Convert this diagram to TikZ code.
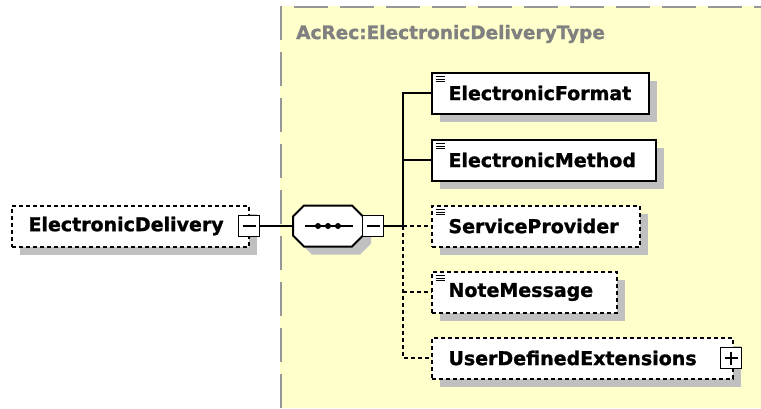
\documentclass[tikz,border=0pt]{standalone}
\usepackage{fontspec}
\setmainfont{DejaVu Sans}
\newfontfamily\boxfont{DejaVu Sans Bold}[FakeBold=1.2]
\usetikzlibrary{shadows}
\definecolor{bgyellow}{RGB}{255,255,204}
\definecolor{shadowgray}{RGB}{192,192,192}
\definecolor{titlegray}{RGB}{128,128,128}
\definecolor{framegray}{RGB}{150,150,150}
\newcommand{\etxt}[2]{\makebox[#1][l]{#2}}
\tikzset{
  shad/.style={drop shadow={shadow xshift=8pt, shadow yshift=-8pt, fill=shadowgray, opacity=1}},
  elem/.style={draw, line width=2pt, fill=white, minimum height=41pt, inner ysep=0pt,
    inner xsep=16.5pt, outer sep=0pt, anchor=west, font=\boxfont\fontsize{19}{22}\selectfont, shad},
  opt/.style={dash pattern=on 4pt off 3pt},
  conn/.style={line width=2pt},
  togbox/.style={draw, line width=1.8pt, fill=white, minimum width=21pt, minimum height=21pt,
    inner sep=0pt, outer sep=0pt},
  minusbox/.style={togbox, path picture={\draw[line width=1.8pt]
    ([xshift=4pt]path picture bounding box.west) -- ([xshift=-4pt]path picture bounding box.east);}},
  plusbox/.style={togbox, path picture={\draw[line width=1.8pt]
    ([xshift=4pt]path picture bounding box.west) -- ([xshift=-4pt]path picture bounding box.east)
    ([yshift=-4pt]path picture bounding box.north) -- ([yshift=4pt]path picture bounding box.south);}},
  seqarea/.style={minimum width=70pt, minimum height=41pt, inner sep=0pt, outer sep=0pt},
  seqline/.style={line width=2pt, fill=white, shad},
  titlestyle/.style={anchor=west, inner sep=0pt, text=titlegray, font=\boxfont\fontsize{18.5}{22}\selectfont},
  iconline/.style={line width=1pt}
}
\begin{document}
\begin{tikzpicture}[x=1pt,y=-1pt]
\useasboundingbox (0,0) rectangle (761,408);
\fill[bgyellow] (280,6) rectangle (761,408);
\draw[framegray, line width=2pt, dash pattern=on 34pt off 12pt] (281,408) -- (281,7) -- (761,7);
\node[titlestyle] (title) at (296,34) {AcRec:ElectronicDeliveryType};

% root element
\node[elem, opt] (ed) at (12,226) {\etxt{204pt}{ElectronicDelivery}};
\node[minusbox] (edm) at (249,226) {};

% sequence compositor
\node[seqarea] (seq) at (328,226) {};
\draw[seqline] ([xshift=11pt]seq.north west) -- ([xshift=-11pt]seq.north east)
  -- ([yshift=-11pt]seq.north east) -- ([yshift=11pt]seq.south east)
  -- ([xshift=-11pt]seq.south east) -- ([xshift=11pt]seq.south west)
  -- ([yshift=11pt]seq.south west) -- ([yshift=-11pt]seq.north west) -- cycle;
\node[minusbox] (seqm) at (373,226) {};
\draw[conn] ([xshift=-23pt]seq.center) -- ([xshift=25pt]seq.center);
\foreach \dx in {-10,0,10} \fill ([xshift=\dx pt]seq.center) circle (3pt);

% children
\node[elem] (ef) at (432,93) {\etxt{184pt}{ElectronicFormat}};
\node[elem] (em) at (432,160) {\etxt{191pt}{ElectronicMethod}};
\node[elem, opt] (sp) at (432,226) {\etxt{175pt}{ServiceProvider}};
\node[elem, opt] (nm) at (432,292) {\etxt{152pt}{NoteMessage}};
\node[elem, opt] (ude) at (432,358) {\etxt{268pt}{UserDefinedExtensions}};
\node[plusbox] (udep) at (731,358) {};

% simple-content icons
\foreach \n in {ef,em,sp,nm}{
  \foreach \dy in {4,6.5,9}
    \draw[iconline] ([shift={(3.5pt,-\dy pt)}]\n.north west) -- ++(9,0);
}

% connectors
\coordinate (J) at (403,226);
\coordinate (Jb) at (403,358);
\draw[conn] (edm.east) -- (seq.west);
\draw[conn] (seqm.east) -- (J);
\draw[conn] (ef.west) -| (J);
\draw[conn] (em.west) -| (J);
\draw[conn, opt] (J) -- (sp.west);
\draw[conn, opt] (J) -- (Jb) -- (ude.west);
\draw[conn, opt] (J |- nm.west) -- (nm.west);
\end{tikzpicture}
\end{document}
